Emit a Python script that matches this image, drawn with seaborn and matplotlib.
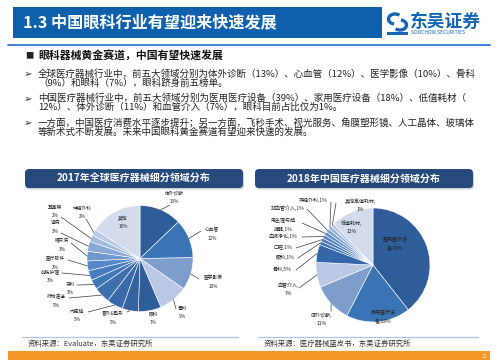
import matplotlib
matplotlib.use("Agg")
import matplotlib.pyplot as plt
import numpy as np
import seaborn as sns
from matplotlib.patches import FancyBboxPatch, Rectangle, Arc

W, H = 500, 362

# ---- slide text ----
slide_title = "1.3 中国眼科行业有望迎来快速发展"
heading = "眼科器械黄金赛道，中国有望快速发展"
bullet_lines = [
    ["全球医疗器械行业中，前五大领域分别为体外诊断（13%）、心血管（12%）、医学影像（10%）、骨科",
     "（9%）和眼科（7%），眼科跻身前五榜单。"],
    ["中国医疗器械行业中，前五大领域分别为医用医疗设备（39%）、家用医疗设备（18%）、低值耗材（",
     "12%）、体外诊断（11%）和血管介入（7%），眼科目前占比仅为1%。"],
    ["一方面，中国医疗消费水平逐步提升；另一方面，飞秒手术、视光服务、角膜塑形镜、人工晶体、玻璃体",
     "等新术式不断发展。未来中国眼科黄金赛道有望迎来快速的发展。"],
]

# ---- pie data ----
global_title = "2017年全球医疗器械细分领域分布"
global_names = ["体外诊断", "心血管", "医学影像", "骨科", "眼科", "普外&整形", "内窥镜",
                "药物递送", "牙科", "创伤护理", "医疗软件", "糖尿病", "肾病", "耳鼻喉",
                "神经外科", "其他"]
global_pct = [13, 12, 10, 9, 7, 5, 5, 5, 3, 3, 3, 3, 3, 2, 2, 16]

china_title = "2018年中国医疗器械细分领域分布"
china_names = ["医用医疗设备", "家用医疗设备", "体外诊断", "血管介入", "骨科", "眼科", "口腔",
               "血液净化", "电生理与起搏器", "非血管介入", "神经外科", "其他高值耗材", "低值耗材"]
china_pct = [39, 18, 11, 7, 5, 1, 1, 1, 1, 1, 1, 1, 12]

sources = ["资料来源：Evaluate，东吴证券研究所", "资料来源：医疗器械蓝皮书，东吴证券研究所"]

sns.set_theme(style="white")
plt.rcParams["font.family"] = ["Noto Sans CJK SC", "DejaVu Sans"]

BLUE = "#0e60ad"
NAVY = "#264a7b"
base4 = ["#2f5d99", "#3b74b4", "#7d9dcb", "#b9c9e3"]
g_colors = base4 + sns.blend_palette(["#2f5d99", "#4a7fc2", "#d3dbec"], len(global_pct) - 4)
c_colors = base4 + sns.blend_palette(["#3466a8", "#5c8bc8", "#d3dbec"], len(china_pct) - 4)

fig = plt.figure(figsize=(W / 100, H / 100), dpi=100)
ax = fig.add_axes([0, 0, 1, 1])


def T(x, y, s, **kw):
    kw.setdefault("va", "center")
    ax.text(x, H - y, s, **kw)


def draw_pie(vals, cols, cx, cy, r):
    wedges, _ = ax.pie(vals, colors=cols, startangle=90, counterclock=False,
                       center=(cx, H - cy), radius=r,
                       wedgeprops=dict(edgecolor="white", linewidth=0.4))
    edges = []
    for w in wedges:
        th = np.deg2rad((w.theta1 + w.theta2) / 2)
        edges.append((cx + r * np.cos(th), cy - r * np.sin(th)))
    return edges


g_edges = draw_pie(global_pct, g_colors, 140, 258.5, 53)
c_edges = draw_pie(china_pct, c_colors, 373, 265, 57)
ax.set_xlim(0, W)
ax.set_ylim(0, H)
ax.set_aspect("auto")
ax.axis("off")

# header
ax.add_patch(Rectangle((13, H - 38), 369, 31, fc=BLUE, ec="none"))
T(23, 22.5, slide_title, color="white", fontsize=11.6, fontweight="bold")
ax.plot([8, 490], [H - 44.5] * 2, color="#2f7bd0", lw=1.3)

# logo
ax.add_patch(Arc((395, H - 19), 13, 10, theta1=40, theta2=260, lw=2.4, color="#1464b4"))
ax.add_patch(Arc((400, H - 25), 13, 10, theta1=220, theta2=80, lw=2.4, color="#1464b4"))
ax.add_patch(Rectangle((387, H - 35), 21, 3.5, fc="#1464b4", ec="none"))
T(410, 21.5, "东吴证券", color="#1464b4", fontsize=12.8, fontweight="bold")
T(411, 32.5, "SOOCHOW SECURITIES", color="#1464b4", fontsize=3.6)

# bullets
T(25, 56, "■", fontsize=6, color="#222222")
T(38, 56, heading, fontsize=7.8, fontweight="bold", color="#111111")
for i, lines in enumerate(bullet_lines):
    y0 = 74 + i * 24.5
    T(24, y0, "➢", fontsize=7.5, color="#333333", family=["DejaVu Sans"])
    for j, line in enumerate(lines):
        T(38, y0 + j * 9, line, fontsize=6.85, color="#222222")

# chart title boxes
for x0, txt in [(25, global_title), (255, china_title)]:
    ax.add_patch(FancyBboxPatch((x0 + 1, H - 189.5), 218, 19,
                                boxstyle="round,pad=0,rounding_size=4",
                                fc="#9aa5b5", ec="none", alpha=0.5))
    ax.add_patch(FancyBboxPatch((x0, H - 188), 218, 19,
                                boxstyle="round,pad=0,rounding_size=4",
                                fc=NAVY, ec="none"))
    T(x0 + 109, 178.5, txt, color="white", fontsize=7.2, fontweight="bold", ha="center")

LC = "#3a3a3a"

# left pie labels: (x, y line1, anchor or None)
g_layout = [
    (174, 193, (170, 205)), (212, 230, (201, 231)), (213, 278, (199, 279)),
    (182, 308, (176, 309)), (153, 314, None), (113, 314, (127, 312)),
    (77, 311, (88, 312)), (56, 297, (69, 298)), (70, 284, (77, 285)),
    (50, 272, (62, 273)), (55, 259, (68, 260)), (62, 241, (71, 243)),
    (55, 223, (61, 233)), (55, 207, (61, 217)), (82, 208, (86, 219)),
    (123, 218, None),
]
for name, pct, (x, y, anc), edge in zip(global_names, global_pct, g_layout, g_edges):
    T(x, y, name, fontsize=3.4, color="#222222", ha="center")
    T(x, y + 8.5, f"{pct}%", fontsize=3.4, color="#222222", ha="center")
    if anc is not None:
        ax.plot([anc[0], edge[0]], [H - anc[1], H - edge[1]], color=LC, lw=0.5)

# right pie labels: (x, y, split index, anchor or None)
c_layout = [
    (395, 240, 5, None), (383, 313, 5, None), (322, 315, 5, (331, 311)),
    (288, 285, 5, (299, 288)), (282, 269, 0, (296, 270)), (285, 257, 0, (298, 258)),
    (283, 247, 0, (296, 248)), (283, 236, 0, (302, 237)), (283, 221, 5, (302, 223)),
    (288, 208, 0, (307, 209)), (313, 200, 0, (331, 202)), (360, 201, 7, (336, 203)),
    (352, 223, 5, None),
]
for name, pct, (x, y, sp, anc), edge in zip(china_names, china_pct, c_layout, c_edges):
    s = f"{name},{pct}%"
    if sp:
        T(x, y, s[:sp], fontsize=3.6, color="#222222", ha="center")
        T(x, y + 8.5, s[sp:], fontsize=3.6, color="#222222", ha="center")
    else:
        T(x, y, s, fontsize=3.6, color="#222222", ha="center")
    if anc is not None:
        ax.plot([anc[0], edge[0]], [H - anc[1], H - edge[1]], color=LC, lw=0.5)

# sources
ax.plot([22, 238], [H - 337] * 2, color="#a9c9e8", lw=0.9)
ax.plot([258, 478], [H - 337] * 2, color="#a9c9e8", lw=0.9)
T(28, 344, sources[0], fontsize=5.3, color="#333333")
T(264, 344, sources[1], fontsize=5.3, color="#333333")

# footer
ax.add_patch(Rectangle((8, H - 360), 482, 9, fc="#f5962a", ec="none"))
T(484, 356, "11", color="white", fontsize=3.5, ha="center")

fig.savefig("out.png", dpi=100)
